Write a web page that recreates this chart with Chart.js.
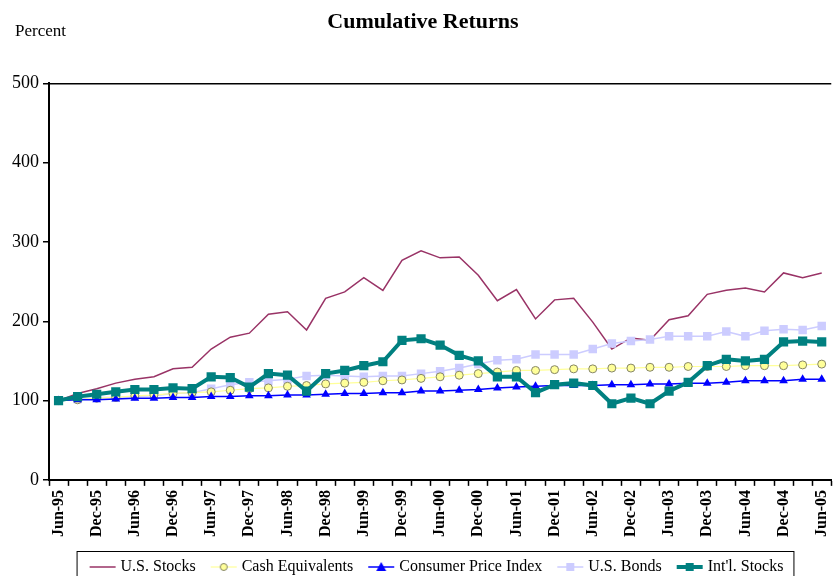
<!DOCTYPE html>
<html>
<head>
<meta charset="utf-8">
<script src="https://cdn.jsdelivr.net/npm/chart.js@4.4.0/dist/chart.umd.min.js"></script>
<style>
  html, body { margin: 0; padding: 0; background: #fff; overflow: hidden; }
  #wrap { width: 845px; height: 585px; }
</style>
</head>
<body>
<div id="wrap"><canvas id="myChart" width="845" height="585"></canvas></div>
<script>
// quarterly points, Jun-95 .. Jun-05 (only Jun / Dec get a label)
const quarters = ["Jun-95", "Sep-95", "Dec-95", "Mar-96", "Jun-96", "Sep-96", "Dec-96", "Mar-97", "Jun-97", "Sep-97", "Dec-97", "Mar-98", "Jun-98", "Sep-98", "Dec-98", "Mar-99", "Jun-99", "Sep-99", "Dec-99", "Mar-00", "Jun-00", "Sep-00", "Dec-00", "Mar-01", "Jun-01", "Sep-01", "Dec-01", "Mar-02", "Jun-02", "Sep-02", "Dec-02", "Mar-03", "Jun-03", "Sep-03", "Dec-03", "Mar-04", "Jun-04", "Sep-04", "Dec-04", "Mar-05", "Jun-05"]
const usStocks = [100, 109, 115, 122, 127, 130, 140, 142, 165, 180, 185, 209, 212, 189, 229, 237, 255, 239, 277, 289, 280, 281, 258, 226, 240, 203, 227, 229, 199, 165, 179, 176, 202, 207, 234, 239, 242, 237, 261, 255, 261]
const cashEquiv = [100, 101, 103, 104, 106, 107, 109, 110, 111, 113, 115, 116, 118, 119, 121, 122, 123, 125, 126, 128, 130, 132, 134, 136, 138, 138, 139, 140, 140, 141, 141, 142, 142, 143, 143, 143, 144, 144, 144, 145, 146]
const cpi = [100, 101, 101, 102, 103, 103, 104, 104, 105, 105, 106, 106, 107, 107, 108, 109, 109, 110, 110, 112, 112, 113, 114, 116, 117, 118, 119, 119, 119, 120, 120, 121, 121, 122, 122, 123, 125, 125, 125, 127, 127]
const usBonds = [100, 102, 104, 104, 105, 106, 109, 110, 115, 120, 123, 125, 127, 131, 132, 131, 130, 131, 131, 134, 137, 141, 146, 151, 152, 158, 158, 158, 165, 172, 175, 177, 181, 181, 181, 187, 181, 188, 190, 189, 194]
const intlStocks = [100, 105, 108, 111, 114, 114, 116, 115, 130, 129, 117, 134, 132, 112, 134, 138, 144, 149, 176, 178, 170, 157, 150, 130, 130, 110, 120, 122, 119, 96, 103, 96, 112, 123, 144, 152, 150, 152, 174, 175, 174]

const serif = "'Liberation Serif', 'Times New Roman', serif";

// small line+marker pictures for the legend
function legendIcon(color, width, marker, fill, stroke) {
  const c = document.createElement('canvas');
  c.width = 28; c.height = 14;
  const g = c.getContext('2d');
  g.strokeStyle = color; g.lineWidth = width;
  g.beginPath(); g.moveTo(1, 7); g.lineTo(27, 7); g.stroke();
  g.fillStyle = fill;
  if (marker === 'circle') {
    g.beginPath(); g.arc(14, 7, 3.5, 0, Math.PI * 2); g.fill();
    g.strokeStyle = stroke; g.lineWidth = 1; g.stroke();
  } else if (marker === 'rect') {
    g.fillRect(10, 3, 8, 8);
  } else if (marker === 'triangle') {
    g.beginPath(); g.moveTo(14, 2); g.lineTo(19, 11); g.lineTo(9, 11); g.closePath(); g.fill();
  }
  return c;
}

const percentLabel = {
  id: 'percentLabel',
  afterDraw(chart) {
    const ctx = chart.ctx;
    ctx.save();
    ctx.font = "17px " + serif;
    ctx.fillStyle = '#000';
    ctx.textBaseline = 'middle';
    ctx.fillText('Percent', 15, 32);
    ctx.restore();
  }
};

// nudge the legend a bit right (the original sits right of centre) and box it
const legendBox = {
  id: 'legendBox',
  afterUpdate(chart) {
    const lg = chart.legend;
    const shift = 15;
    lg.left += shift;
    lg.right += shift;
    (lg.legendHitBoxes || []).forEach(h => { h.left += shift; });
  },
  afterDraw(chart) {
    const boxes = chart.legend.legendHitBoxes;
    if (!boxes || !boxes.length) return;
    const last = boxes[boxes.length - 1];
    const left = boxes[0].left - 16;
    const right = last.left + last.width + 10;
    const top = boxes[0].top - 8;
    const ctx = chart.ctx;
    ctx.save();
    ctx.strokeStyle = '#000';
    ctx.lineWidth = 1;
    ctx.strokeRect(left + 0.5, top + 0.5, right - left, 40);
    ctx.restore();
  }
};

const ctx = document.getElementById('myChart');
new Chart(ctx, {
  type: 'line',
  data: {
    labels: quarters,
    datasets: [
      {
        label: 'U.S. Stocks',
        data: usStocks,
        borderColor: '#993366',
        borderWidth: 1.5,
        pointRadius: 0,
        order: 4,
        icon: legendIcon('#993366', 1.5, null)
      },
      {
        label: 'Cash Equivalents',
        data: cashEquiv,
        borderColor: '#FFFF99',
        borderWidth: 1.2,
        pointStyle: 'circle',
        pointRadius: 4,
        pointBackgroundColor: '#FFFF99',
        pointBorderColor: '#858566',
        pointBorderWidth: 1,
        order: 2,
        icon: legendIcon('#FFFF99', 1.2, 'circle', '#FFFF99', '#858566')
      },
      {
        label: 'Consumer Price Index',
        data: cpi,
        borderColor: '#0000FF',
        borderWidth: 1.5,
        pointStyle: 'triangle',
        pointRadius: 5,
        pointBorderWidth: 0,
        pointBackgroundColor: '#0000FF',
        pointBorderColor: '#0000FF',
        order: 1,
        icon: legendIcon('#0000FF', 1.5, 'triangle', '#0000FF')
      },
      {
        label: 'U.S. Bonds',
        data: usBonds,
        borderColor: '#CCCCFF',
        borderWidth: 1.5,
        pointStyle: 'rect',
        pointRadius: 6,
        pointBorderWidth: 0,
        pointBackgroundColor: '#CCCCFF',
        pointBorderColor: '#CCCCFF',
        order: 3,
        icon: legendIcon('#CCCCFF', 1.5, 'rect', '#CCCCFF')
      },
      {
        label: "Int'l. Stocks",
        data: intlStocks,
        borderColor: '#008080',
        borderWidth: 4,
        pointStyle: 'rect',
        pointRadius: 6.5,
        pointBorderWidth: 0,
        pointBackgroundColor: '#008080',
        pointBorderColor: '#008080',
        order: 0,
        icon: legendIcon('#008080', 4, 'rect', '#008080')
      }
    ]
  },
  options: {
    responsive: false,
    animation: false,
    layout: { padding: { left: 8, right: 7, top: 0, bottom: 0 } },
    plugins: {
      title: {
        display: true,
        text: 'Cumulative Returns',
        color: '#000',
        font: { family: serif, size: 22, weight: 'bold' },
        padding: { top: 9, bottom: 48 }
      },
      legend: {
        position: 'bottom',
        labels: {
          color: '#000',
          font: { family: serif, size: 16 },
          usePointStyle: true,
          pointStyleWidth: 20,
          padding: 18,
          generateLabels: (chart) => chart.data.datasets.map((ds, i) => ({
            text: ds.label,
            pointStyle: ds.icon,
            fontColor: '#000',
            lineWidth: 0,
            datasetIndex: i
          }))
        }
      },
      tooltip: { enabled: false }
    },
    scales: {
      y: {
        min: 0,
        max: 500,
        ticks: {
          stepSize: 100,
          color: '#000',
          padding: 4,
          font: { family: serif, size: 18 }
        },
        grid: {
          color: (c) => c.tick && c.tick.value === 500 ? '#000' : 'rgba(0,0,0,0)',
          lineWidth: 1.5,
          tickColor: '#000',
          tickLength: 6,
          tickWidth: 1.5
        },
        border: { color: '#000', width: 2 }
      },
      x: {
        offset: true,
        grid: {
          offset: true,
          drawOnChartArea: false,
          tickColor: '#000',
          tickLength: 6,
          tickWidth: 1.5
        },
        border: { color: '#000', width: 2 },
        ticks: {
          autoSkip: false,
          minRotation: 90,
          maxRotation: 90,
          padding: 4,
          color: '#000',
          font: { family: serif, size: 16, weight: 'bold' },
          callback: (v, i) => (quarters[i].startsWith('Jun') || quarters[i].startsWith('Dec')) ? quarters[i] : ''
        }
      }
    }
  },
  plugins: [percentLabel, legendBox]
});
</script>
</body>
</html>
